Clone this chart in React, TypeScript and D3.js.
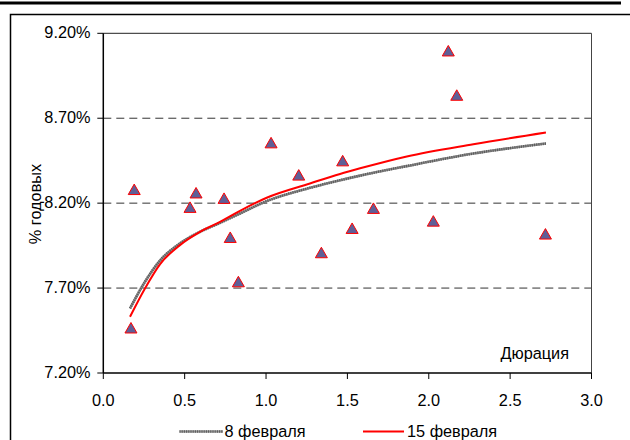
import React from "react";
import * as d3 from "d3";

const durations = [0.17, 0.19, 0.533, 0.57, 0.742, 0.78, 0.83, 1.031, 1.201, 1.34, 1.471, 1.529, 1.66, 2.028, 2.12, 2.172, 2.717];
const yields = [7.465, 8.28, 8.175, 8.26, 8.228, 7.998, 7.737, 8.555, 8.365, 7.908, 8.449, 8.051, 8.169, 8.094, 9.096, 8.835, 8.018];

const fitX = [0.164, 0.256, 0.348, 0.471, 0.594, 0.717, 0.84, 1.004, 1.27, 1.455, 1.578, 1.865, 2.274, 2.72];
const fitFeb8 = [7.58, 7.737, 7.862, 7.963, 8.031, 8.084, 8.139, 8.212, 8.29, 8.335, 8.362, 8.418, 8.492, 8.551];
const fitFeb15 = [7.531, 7.698, 7.84, 7.953, 8.031, 8.09, 8.155, 8.232, 8.316, 8.372, 8.405, 8.475, 8.547, 8.616];

const xTicks = [0, 0.5, 1, 1.5, 2, 2.5, 3];
const yTicks = [7.2, 7.7, 8.2, 8.7, 9.2];
const gridTicks = [7.7, 8.2, 8.7];

const legendLabels = ["8 февраля", "15 февраля"];
const yTitle = "% годовых";
const xTitle = "Дюрация";

const FONT = "'Liberation Sans', Arial, sans-serif";

function T({ x, y, anchor = "start", children, rotate = 0 }: any) {
  return (
    <text
      transform={`translate(${x},${y}) rotate(${rotate})`}
      textAnchor={anchor}
      fontFamily={FONT}
      fontSize={16.3}
      fill="#000"
    >
      {children}
    </text>
  );
}

export default function App() {
  const L = 103.3, R = 591.5, TOP = 33.3, B = 373;
  const x = d3.scaleLinear().domain([0, 3]).range([L, R]);
  const y = d3.scaleLinear().domain([7.2, 9.2]).range([B, TOP]);

  const line = d3
    .line<number>()
    .x((_, i) => x(fitX[i]))
    .curve(d3.curveMonotoneX);
  const path8 = line.y((v) => y(v))(fitFeb8) || "";
  const path15 = line.y((v) => y(v))(fitFeb15) || "";

  const tri = "M0,-5.5 L6,5 L-6,5 Z";

  return (
    <svg
      width={630}
      height={440}
      style={{ position: "absolute", left: 0, top: 0, background: "#fff" }}
    >
      {/* page top rule */}
      <line x1={0} x2={621} y1={3} y2={3} stroke="#000" strokeWidth={3} />
      {/* chart frame */}
      <rect x={10.5} y={14.5} width={640} height={460} fill="none" stroke="#000" strokeWidth={1.5} />

      {/* gridlines */}
      {gridTicks.map((t) => (
        <line key={t} x1={L} x2={R} y1={y(t)} y2={y(t)} stroke="#333" strokeWidth={1} strokeDasharray="8 5" />
      ))}

      {/* plot border top/right */}
      <line x1={L} x2={R} y1={TOP} y2={TOP} stroke="#222" strokeWidth={1} />
      <line x1={R} x2={R} y1={TOP} y2={B} stroke="#444" strokeWidth={1} />

      {/* axes */}
      <line x1={L} x2={L} y1={TOP} y2={B} stroke="#000" strokeWidth={1.5} />
      <line x1={L} x2={R} y1={B} y2={B} stroke="#000" strokeWidth={1.5} />

      {yTicks.map((t) => (
        <g key={t}>
          <line x1={L - 6} x2={L} y1={y(t)} y2={y(t)} stroke="#000" strokeWidth={1} />
          <T x={90.5} y={y(t) + 4.5} anchor="end">{t.toFixed(2) + "%"}</T>
        </g>
      ))}
      {xTicks.map((t) => (
        <g key={t}>
          <line x1={x(t)} x2={x(t)} y1={B} y2={B + 6} stroke="#000" strokeWidth={1} />
          <T x={x(t)} y={406} anchor="middle">{t.toFixed(1)}</T>
        </g>
      ))}

      <T x={41} y={204} anchor="middle" rotate={-90}>{yTitle}</T>
      <T x={569} y={359} anchor="end">{xTitle}</T>

      {/* fitted curves */}
      <path d={path8} fill="none" stroke="#8c8c8c" strokeWidth={2.6} />
      <path d={path8} fill="none" stroke="#5a5a5a" strokeWidth={2.6} strokeDasharray="1 1.2" />
      <path d={path15} fill="none" stroke="#ff0000" strokeWidth={2} />

      {/* points */}
      {durations.map((d, i) => (
        <path
          key={i}
          d={tri}
          transform={`translate(${x(d)},${y(yields[i])})`}
          fill="#5f5f97"
          stroke="#ff0000"
          strokeWidth={1}
        />
      ))}

      {/* legend */}
      <line x1={179.5} x2={223} y1={431.5} y2={431.5} stroke="#9a9a9a" strokeWidth={2.6} />
      <line x1={179.5} x2={223} y1={431.5} y2={431.5} stroke="#5a5a5a" strokeWidth={2.6} strokeDasharray="1 1.2" />
      <T x={224.5} y={437}>{legendLabels[0]}</T>
      <line x1={363} x2={404} y1={431.5} y2={431.5} stroke="#ff0000" strokeWidth={2} />
      <T x={407} y={437}>{legendLabels[1]}</T>
    </svg>
  );
}
